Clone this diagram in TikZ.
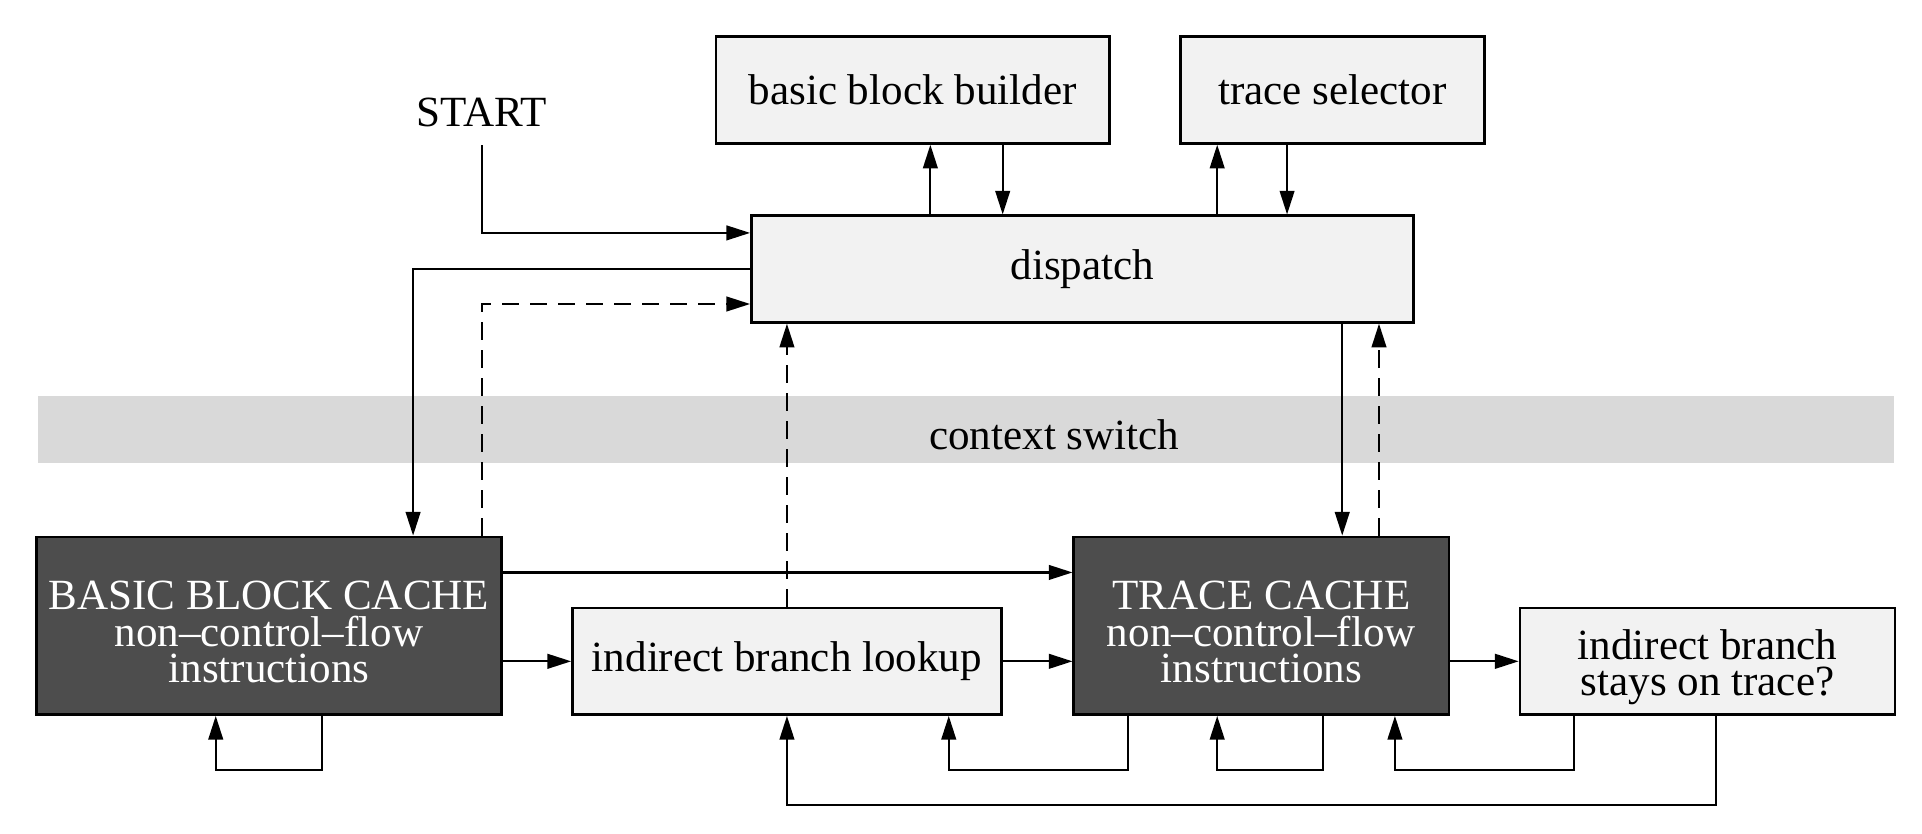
\documentclass[tikz,border=0pt]{standalone}
\usepackage{fontspec}
\setmainfont{Liberation Serif}
\usetikzlibrary{arrows.meta,calc}
\definecolor{boxlight}{RGB}{242,242,242}
\definecolor{boxdark}{RGB}{77,77,77}
\definecolor{bandgray}{RGB}{217,217,217}
\newcommand{\lowstrut}{\rule{0pt}{9.6pt}}
\tikzset{
  flow/.style={
    -{Triangle[length=5.5pt,width=3.4pt]},
    line width=0.5pt
  },
  flow-back/.style={
    flow,
    dash pattern=on 4pt off 2.5pt
  },
  box/.style={rectangle, draw=black, line width=0.6pt, inner sep=0pt, align=center, font=\fontsize{10}{8.5}\selectfont},
  box-light/.style={box, fill=boxlight},
  box-dark/.style={box, fill=boxdark, text=white}
}

\begin{document}
\begin{tikzpicture}
  \useasboundingbox (0,0) rectangle (15.68,6.80);

  % --- Top Row ---
  \node[box-light, minimum width=3.21cm, minimum height=0.87cm] (bbb) at (7.445,6.065) {basic block builder};
  \node[box-light, minimum width=2.48cm, minimum height=0.87cm] (sel) at (10.87,6.065) {trace selector};
  \node[inner sep=1.4mm] (start) at (3.93,5.88) {START};
  \node[box-light, minimum width=5.40cm, minimum height=0.87cm] (disp) at (8.83,4.605) {dispatch};

  % --- Context Switch Band ---
  \node[fill=bandgray, minimum width=15.14cm, minimum height=0.55cm, inner sep=0pt] (band) at (7.88,3.295) {};
  \node (ctx) at (8.60,3.25) {context switch};

  % --- Bottom Row ---
  \node[box-dark, minimum width=3.79cm, minimum height=1.45cm] (bbc) at (2.195,1.695) {\lowstrut BASIC BLOCK CACHE\\non--control--flow\\instructions};
  \node[box-light, minimum width=3.50cm, minimum height=0.87cm] (ibl) at (6.42,1.405) {indirect branch lookup};
  \node[box-dark, minimum width=3.06cm, minimum height=1.45cm] (tc) at (10.29,1.695) {\lowstrut TRACE CACHE\\non--control--flow\\instructions};
  \node[box-light, minimum width=3.06cm, minimum height=0.87cm] (stay) at (13.93,1.405) {\lowstrut indirect branch\\stays on trace?};

  % --- Connectors to Dispatch ---
  \draw[flow] (start.south) |- ([yshift=2.95mm]disp.west);
  \draw[flow] (disp.west) -| ([xshift=11.75mm]bbc.north);
  \draw[flow-back] (bbc.north -| start.south) |- ([yshift=-2.85mm]disp.west);
  \draw[flow-back] (ibl.north) -- (ibl.north |- disp.south);
  \draw[flow] ([xshift=6.6mm]tc.north |- disp.south) -- ([xshift=6.6mm]tc.north);
  \draw[flow-back] ([xshift=9.6mm]tc.north) -- ([xshift=9.6mm]tc.north |- disp.south);

  % Builder and selector
  \draw[flow] ([xshift=1.45mm]bbb.south |- disp.north) -- ([xshift=1.45mm]bbb.south);
  \draw[flow] ([xshift=7.35mm]bbb.south) -- ([xshift=7.35mm]bbb.south |- disp.north);
  \draw[flow] ([xshift=-9.4mm]sel.south |- disp.north) -- ([xshift=-9.4mm]sel.south);
  \draw[flow] ([xshift=-3.7mm]sel.south) -- ([xshift=-3.7mm]sel.south |- disp.north);

  % --- Bottom Row Connectors ---
  \draw[flow] ([yshift=4.35mm]bbc.east) -- ([yshift=4.35mm]tc.west);
  \draw[flow] (bbc.east |- ibl.west) -- (ibl.west);
  \draw[flow] (ibl.east) -- (ibl.east -| tc.west);
  \draw[flow] (tc.east |- stay.west) -- (stay.west);

  % Loops underneath
  \draw[flow] ([xshift=4.35mm]bbc.south) -- ++(0,-0.44) -| ([xshift=-4.35mm]bbc.south);
  \draw[flow] ([xshift=-10.9mm]tc.south) -- ++(0,-0.44) -| ([xshift=13.2mm]ibl.south);
  \draw[flow] ([xshift=5mm]tc.south) -- ++(0,-0.44) -| ([xshift=-3.6mm]tc.south);
  \draw[flow] ([xshift=-10.9mm]stay.south) -- ++(0,-0.44) -| ([xshift=10.9mm]tc.south);
  \draw[flow] ([xshift=0.7mm]stay.south) -- ++(0,-0.73) -| (ibl.south);
\end{tikzpicture}
\end{document}
